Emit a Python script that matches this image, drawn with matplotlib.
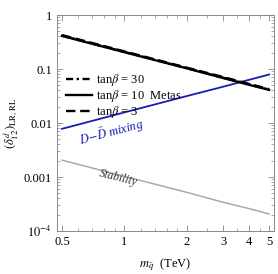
import numpy as np
import matplotlib
matplotlib.use("Agg")
import matplotlib.pyplot as plt
from matplotlib.ticker import LogLocator, FixedLocator, NullFormatter

plt.rcParams['font.family'] = ['Liberation Serif', 'DejaVu Serif']
plt.rcParams['mathtext.fontset'] = 'stix'

# data
m = [0.5, 1.0, 2.0, 3.0, 4.0, 5.0]
tb30 = [0.415, 0.207, 0.104, 0.069, 0.052, 0.0415]
tb10 = [0.410, 0.205, 0.103, 0.068, 0.051, 0.0410]
tb3 = [0.425, 0.212, 0.106, 0.071, 0.053, 0.0425]
ddmix = [0.0078, 0.0157, 0.0315, 0.047, 0.063, 0.079]
stability = [0.00205, 0.00103, 0.00052, 0.00034, 0.00026, 0.000207]

xticks = [0.5, 1, 2, 3, 4, 5]
xticklabels = ['0.5', '1', '2', '3', '4', '5']
yticks = [1e-4, 1e-3, 1e-2, 1e-1, 1]
yticklabels = [r'$10^{-4}$', '0.001', '0.01', '0.1', '1']

fig = plt.figure(figsize=(2.78, 2.74), dpi=100)
ax = fig.add_axes([57/278, 1-231/274, (274-57)/278, (231-15)/274])

ax.plot(m, stability, color='#aaaaaa', lw=1.1)
ax.plot(m, ddmix, color='#1a1ab4', lw=1.3)
l1, = ax.plot(m, tb30, color='black', lw=1.7, ls=(0, (3, 1.5, 1, 1.5)), label=r'tan$\beta$ = 30')
l2, = ax.plot(m, tb10, color='black', lw=1.7, ls='-', label=r'tan$\beta$ = 10  Metas')
l3, = ax.plot(m, tb3, color='black', lw=1.7, ls=(0, (4, 2)), label=r'tan$\beta$ = 3')

ax.set_xscale('log')
ax.set_yscale('log')
ax.set_xlim(0.473, 5.28)
ax.set_ylim(1e-4, 1)

ax.xaxis.set_major_locator(FixedLocator(xticks))
ax.set_xticklabels(xticklabels)
ax.xaxis.set_minor_locator(FixedLocator([0.6, 0.7, 0.8, 0.9, 1.2, 1.4, 1.6, 1.8, 2.5, 3.5, 4.5]))
ax.xaxis.set_minor_formatter(NullFormatter())
ax.yaxis.set_major_locator(FixedLocator(yticks))
ax.set_yticklabels(yticklabels)
ax.yaxis.set_minor_locator(LogLocator(base=10, subs=np.arange(2, 10), numticks=100))
ax.yaxis.set_minor_formatter(NullFormatter())

ax.tick_params(which='both', direction='in', top=True, right=True, labelsize=9, color='#888888')
ax.tick_params(which='major', length=4, width=0.6)
ax.tick_params(which='minor', length=2, width=0.5)
for s in ax.spines.values():
    s.set_color('#888888')
    s.set_linewidth(0.7)

ax.set_xlabel(r'$m_{\tilde{q}}$  (TeV)', fontsize=9, labelpad=6)
ax.set_ylabel(r'$(\delta^{d}_{12})_{\rm LR,RL}$', fontsize=9, labelpad=2)

leg = ax.legend(handles=[l1, l2, l3], loc='upper left', bbox_to_anchor=(0.0, 0.775),
                frameon=False, fontsize=9, handlelength=2.1, handletextpad=0.3,
                labelspacing=0.0, borderaxespad=0.3)

ax.text(0.87, 0.0066, r'$D\!-\!\bar{D}$ mixing', color='#1a1ab4', fontsize=9,
        style='italic', rotation=15, ha='center', va='center', rotation_mode='anchor')
ax.text(0.93, 0.00098, 'Stability', color='#333333', fontsize=8.5,
        style='italic', rotation=-14, ha='center', va='center', rotation_mode='anchor')

fig.savefig('out.png', dpi=100)
